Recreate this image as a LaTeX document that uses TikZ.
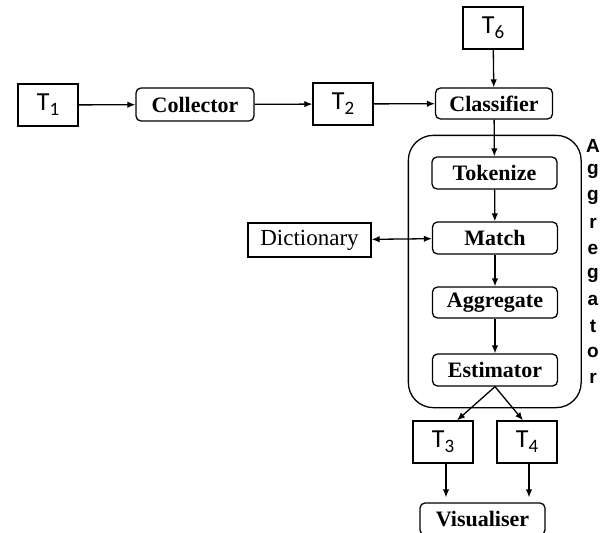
\documentclass[tikz,border=0pt]{standalone}
\usepackage{fontspec}
\setmainfont{Liberation Serif}
\newfontfamily\tfont{Carlito}
\newfontfamily\aggfont{Liberation Sans}
\usetikzlibrary{arrows.meta,fit}

\newcommand{\tlab}[1]{{\tfont T\raisebox{-5pt}{\fontsize{19}{19}\selectfont #1}}}

\begin{document}
\begin{tikzpicture}[x=1pt,y=-1pt,
    line width=1.3pt,
    >={Latex[length=8pt,width=6.5pt]},
    tbox/.style = {
      draw,
      rectangle,
      inner sep = 0pt,
      minimum width = 60pt,
      minimum height = 42pt,
      font = \fontsize{26}{26}\selectfont
    },
    stage/.style = {
      draw,
      rectangle,
      rounded corners = 5pt,
      inner sep = 0pt,
      minimum width = 125pt,
      minimum height = 32pt,
      font = \fontsize{22}{22}\selectfont\bfseries
    }
  ]
  \useasboundingbox (0,0) rectangle (611,533);

  \node[tbox] (t1) at (48,105) {\tlab{1}};
  \node[stage,minimum width=118pt,minimum height=33pt] (coll) at (195,104.5) {Collector};
  \node[tbox] (t2) at (343,104) {\tlab{2}};
  \node[stage,minimum width=117pt,minimum height=31pt] (clas) at (494,103.5) {Classifier};
  \node[tbox] (t6) at (493,28) {\tlab{6}};

  \node[stage] (tok) at (494.5,173) {Tokenize};
  \node[stage] (match) at (495,238) {Match};
  \node[stage,minimum height=31pt] (aggr) at (495,302.5) {Aggregate};
  \node[stage] (est) at (495,370) {Estimator};

  \node[draw,rectangle,inner sep=0pt,minimum width=123pt,minimum height=34pt,
    font=\fontsize{23}{23}\selectfont] (dict) at (309.5,240) {Dictionary};

  \node[draw,rounded corners=25pt,inner xsep=23pt,inner ysep=21pt,
    fit=(tok)(est)] (agg) {};
  \foreach \l [count=\i] in {A,g,g,r,e,g,a,t,o,r}
    \node[font=\aggfont\fontsize{19}{19}\selectfont\bfseries] at (593,{146+(\i-1)*25.8}) {\l};

  \node[tbox] (t3) at (443,442) {\tlab{3}};
  \node[tbox] (t4) at (527,442) {\tlab{4}};
  \node[stage,minimum height=32pt] (vis) at (482.5,519) {Visualiser};

  \draw[->] (t1) -- (coll);
  \draw[->] (coll) -- (t2);
  \draw[->] (t2) -- (clas);
  \draw[->] (t6) -- (clas);
  \draw[->] (clas) -- (tok);
  \draw[->] (tok) -- (match);
  \draw[<->] (dict) -- (match);
  \draw[->] (match) -- (aggr);
  \draw[->] (aggr) -- (est);
  \draw[->] (est.south) -- ([xshift=14pt]t3.north);
  \draw[->] (est.south) -- ([xshift=-4pt]t4.north);
  \draw[->,shorten >=5pt] ([xshift=3pt]t3.south) -- ([xshift=3pt]t3.south |- vis.north);
  \draw[->,shorten >=5pt] ([xshift=2pt]t4.south) -- ([xshift=2pt]t4.south |- vis.north);
\end{tikzpicture}
\end{document}
